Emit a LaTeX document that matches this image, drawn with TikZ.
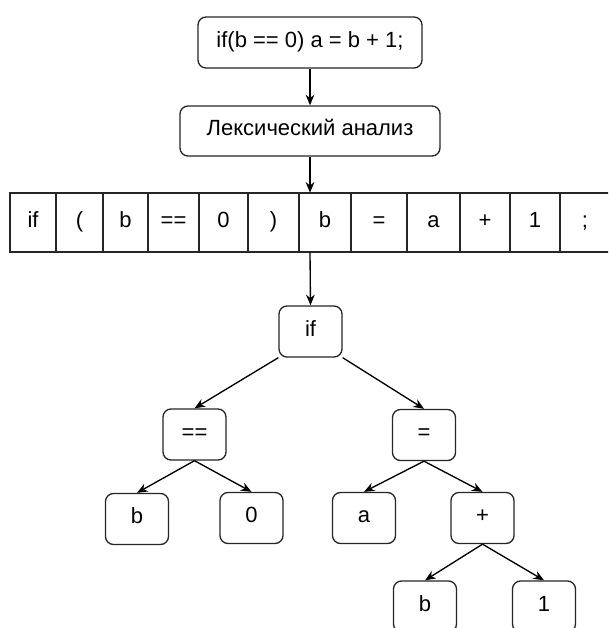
\documentclass[tikz,border=0pt]{standalone}
\usepackage{fontspec}
\setmainfont{Liberation Sans}
\usetikzlibrary{arrows.meta}
\begin{document}
\begin{tikzpicture}[x=0.75pt,y=-0.75pt,
  font=\fontsize{16.5}{20}\selectfont,
  box/.style={draw=black!85, line width=1pt, rounded corners=6pt, fill=white, inner sep=0pt, align=center, text height=0.78em, text depth=0.08em},
  tbox/.style={box, minimum width=47.25pt, minimum height=38.25pt},
  cell/.style={draw=black!85, line width=1pt, inner sep=0pt, minimum height=44.25pt, text height=0.78em, text depth=0.08em},
  arr/.style={-{Stealth[length=8pt,width=6.5pt]}, line width=1pt, black}]
\useasboundingbox (0,0) rectangle (608,628);
\clip (0,0) rectangle (608,628);

\node[box, minimum width=168pt, minimum height=38.25pt] (src) at (310,42.5) {if(b == 0) a = b + 1;};
\node[box, minimum width=195pt, minimum height=37.5pt] (lex) at (310,131) {Лексический анализ};

\node[minimum width=450pt, minimum height=44.25pt, inner sep=0pt] (row) at (310,222.5) {};
\node[cell, minimum width=34.5pt]  (t1)  at (33,222.5)   {if};
\node[cell, minimum width=35.25pt] (t2)  at (79.5,222.5) {(};
\node[cell, minimum width=33.75pt] (t3)  at (125.5,222.5) {b};
\node[cell, minimum width=38.25pt] (t4)  at (173.5,222.5) {==};
\node[cell, minimum width=36.75pt] (t5)  at (223.5,222.5) {0};
\node[cell, minimum width=38.25pt] (t6)  at (273.5,222.5) {)};
\node[cell, minimum width=39pt]    (t7)  at (325,222.5)  {b};
\node[cell, minimum width=42pt]    (t8)  at (379,222.5)  {=};
\node[cell, minimum width=39.75pt] (t9)  at (433.5,222.5) {a};
\node[cell, minimum width=37.5pt]  (t10) at (485,222.5)  {+};
\node[cell, minimum width=37.5pt]  (t11) at (535,222.5)  {1};
\node[cell, minimum width=37.5pt]  (t12) at (585,222.5)  {;};

\node[tbox] (if) at (310.5,331.5) {if};
\node[tbox] (eq) at (194.5,434.5) {==};
\node[tbox] (as) at (424,435) {=};
\node[tbox] (b1) at (137,519) {b};
\node[tbox] (z)  at (251.5,518) {0};
\node[tbox] (a)  at (364,518) {a};
\node[tbox] (pl) at (482.5,518) {+};
\node[tbox] (b2) at (425,606.5) {b};
\node[tbox] (o)  at (544,606.5) {1};

\draw[arr] (src.south) -- (lex.north);
\draw[arr] (lex.south) -- (row.north);
\draw[arr] (row.south) -- (if.north);
\draw[arr] (if.south west) -- (eq.north);
\draw[arr] (if.south east) -- (as.north);
\draw[arr] (eq.south) -- (b1.north);
\draw[arr] (eq.south) -- (z.north);
\draw[arr] (as.south) -- (a.north);
\draw[arr] (as.south) -- (pl.north);
\draw[arr] (pl.south) -- (b2.north);
\draw[arr] (pl.south) -- (o.north);
\end{tikzpicture}
\end{document}
